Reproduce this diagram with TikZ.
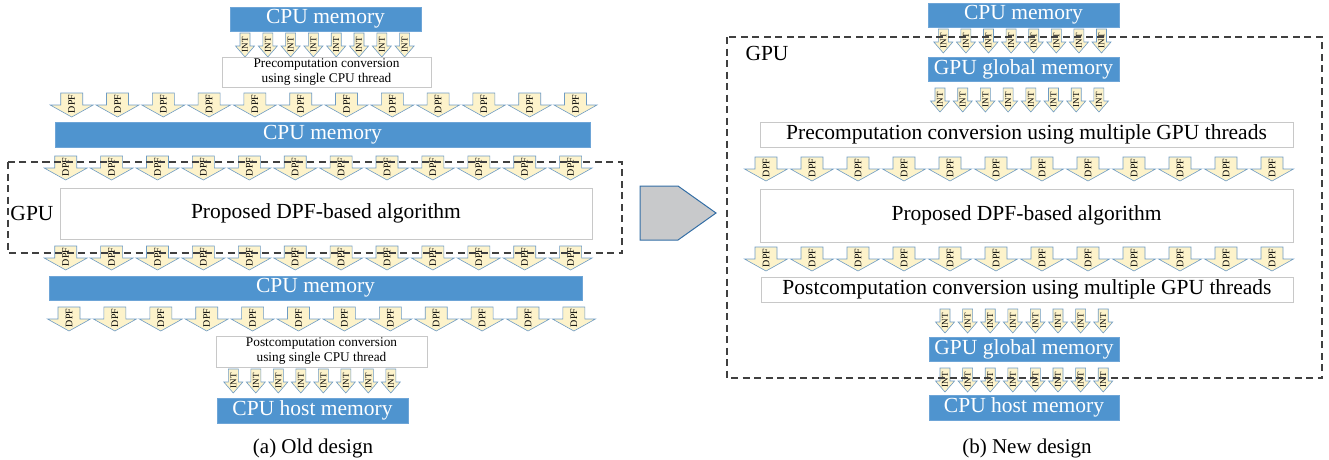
\documentclass[tikz,border=0pt]{standalone}
\usepackage{fontspec}
\setmainfont{Liberation Serif}
\definecolor{memblue}{RGB}{79,148,207}
\definecolor{memedge}{RGB}{110,165,215}
\definecolor{boxgray}{RGB}{200,200,200}
\definecolor{arrowfill}{RGB}{253,243,203}
\definecolor{arrowedge}{RGB}{110,155,195}
\definecolor{pentfill}{RGB}{200,201,203}
\definecolor{pentedge}{RGB}{52,110,165}
\begin{document}
\begin{tikzpicture}[x=1pt,y=-1pt,
  membar/.style={draw=memedge, fill=memblue, text=white, line width=0.6pt,
    font=\fontsize{21.5}{24}\selectfont, inner sep=0pt},
  wbox/.style={draw=boxgray, fill=white, line width=0.9pt, inner sep=0pt},
  bigtext/.style={font=\fontsize{21.5}{24}\selectfont},
  smalltext/.style={font=\fontsize{13.3}{15}\selectfont, align=center},
  arrowline/.style={draw=arrowedge, fill=arrowfill, line width=0.6pt},
  gpubox/.style={draw=black!75, dash pattern=on 7pt off 4.5pt, line width=1.1pt},
  caption/.style={font=\fontsize{21}{24}\selectfont},
  pics/dpfarrow/.style={code={
    \path[arrowline] (-11,0) -- (11,0) -- (11,12) -- (21.5,12) -- (0,24)
      -- (-21.5,12) -- (-11,12) -- cycle;
    \node[rotate=90, font=\fontsize{10}{10}\selectfont, inner sep=0pt] (-t) at (0,11) {#1};
  }},
  pics/intarrow/.style={code={
    \path[arrowline] (-5,0) -- (5,0) -- (5,13) -- (9.5,13) -- (0,24)
      -- (-9.5,13) -- (-5,13) -- cycle;
    \node[rotate=90, font=\fontsize{9}{9}\selectfont, inner sep=0pt] (-t) at (0,11.5) {#1};
  }}
]
\useasboundingbox (0,0) rectangle (1329,459);

% ---------------- (a) old design ----------------
\node[membar, minimum width=191pt, minimum height=24pt] (cpuA1) at (325.5,19) {CPU memory};
\foreach \i in {0,...,7} \pic (iA1\i) at ({245+22.8*\i},33) {intarrow=INT};
\node[wbox, smalltext, minimum width=209pt, minimum height=30pt] (preA) at (326.5,72)
  {Precomputation conversion\\ using single CPU thread};
\foreach \i in {0,...,11} \pic (dA1\i) at ({71.7+45.8*\i},93) {dpfarrow=DPF};
\node[membar, minimum width=535pt, minimum height=25pt] (cpuA2) at (322.5,134.5) {CPU memory};
\foreach \i in {0,...,11} \pic (dA2\i) at ({65.7+45.9*\i},156) {dpfarrow=DPF};
\node[wbox, bigtext, minimum width=532pt, minimum height=51pt] (propA) at (326,213.5)
  {Proposed DPF-based algorithm};
\node[bigtext, inner sep=0pt] (gpuA) at (32,213) {GPU};
\foreach \i in {0,...,11} \pic (dA3\i) at ({65.7+45.9*\i},246) {dpfarrow=DPF};
\node[membar, minimum width=533pt, minimum height=24pt] (cpuA3) at (315.5,288) {CPU memory};
\foreach \i in {0,...,11} \pic (dA4\i) at ({69+45.9*\i},307) {dpfarrow=DPF};
\node[wbox, smalltext, minimum width=211pt, minimum height=31pt] (postA) at (321.5,351.5)
  {Postcomputation conversion\\ using single CPU thread};
\foreach \i in {0,...,7} \pic (iA2\i) at ({233.3+22.5*\i},369) {intarrow=INT};
\node[membar, minimum width=191pt, minimum height=25pt] (hostA) at (312.5,410.5) {CPU host memory};
\node[caption] (capA) at (313,448) {(a) Old design};
\draw[gpubox] (8,162) rectangle (622,253);

% ---------------- transition arrow ----------------
\draw[fill=pentfill, draw=pentedge, line width=1pt]
  (640,186) -- (678,186) -- (716,213) -- (678,240) -- (640,240) -- cycle;

% ---------------- (b) new design ----------------
\node[membar, minimum width=191pt, minimum height=24pt] (cpuB) at (1023.5,15) {CPU memory};
\foreach \i in {0,...,7} \pic (iB1\i) at ({943.3+22.6*\i},29) {intarrow=INT};
\node[membar, minimum width=191pt, minimum height=24pt] (globB1) at (1023.5,69) {GPU global memory};
\foreach \i in {0,...,7} \pic (iB2\i) at ({940+22.7*\i},88) {intarrow=INT};
\node[wbox, bigtext, minimum width=533pt, minimum height=25pt] (preB) at (1026.5,134.5)
  {Precomputation conversion using multiple GPU threads};
\foreach \i in {0,...,11} \pic (dB1\i) at ({766+46*\i},157) {dpfarrow=DPF};
\node[wbox, bigtext, minimum width=533pt, minimum height=53pt] (propB) at (1026.5,215.5)
  {Proposed DPF-based algorithm};
\foreach \i in {0,...,11} \pic (dB2\i) at ({766+46*\i},247) {dpfarrow=DPF};
\node[wbox, bigtext, minimum width=532pt, minimum height=25pt] (postB) at (1027,289.5)
  {Postcomputation conversion using multiple GPU threads};
\foreach \i in {0,...,7} \pic (iB3\i) at ({945+22.6*\i},309) {intarrow=INT};
\node[membar, minimum width=190pt, minimum height=24pt] (globB2) at (1024,349) {GPU global memory};
\foreach \i in {0,...,7} \pic (iB4\i) at ({945+22.6*\i},368) {intarrow=INT};
\node[membar, minimum width=190pt, minimum height=25pt] (hostB) at (1024,407.5) {CPU host memory};
\node[bigtext, inner sep=0pt] (gpuB) at (767,53) {GPU};
\node[caption] (capB) at (1027,448) {(b) New design};
\draw[gpubox] (727,37) rectangle (1322,378);
\end{tikzpicture}
\end{document}
